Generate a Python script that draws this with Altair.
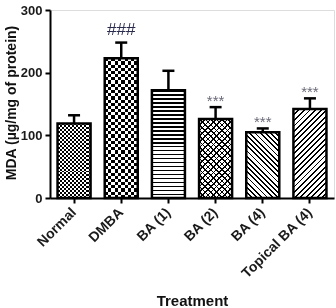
import math
import altair as alt
import pandas as pd

# ---------------- data ----------------
categories = ["Normal", "DMBA", "BA (1)", "BA (2)", "BA (4)", "Topical BA (4)"]
mda_mean = [119, 223, 172, 126, 105, 142]
mda_upper = [132, 248, 203, 145, 111, 159]
significance = ["", "###", "", "***", "***", "***"]
y_ticks = [0, 100, 200, 300]

df = pd.DataFrame({
    "Treatment": categories,
    "MDA": mda_mean,
    "Upper": mda_upper,
    "Sig": significance,
})

# ---------------- layout / style constants ----------------
PLOT_W, PLOT_H = 284, 188
Y_MAX = 300
P_IN, P_OUT = 0.30, 0.16
STEP = PLOT_W / (len(categories) - P_IN + 2 * P_OUT)
BAR_W = STEP * (1 - P_IN)
FONT = "Liberation Sans"


def px_height(v):
    return v * PLOT_H / Y_MAX


def stripe_stops(n, frac, fg, bg):
    stops = []
    for i in range(n):
        a = i / n
        b = (i + frac) / n
        c = (i + 1) / n
        stops += [
            {"offset": a, "color": fg},
            {"offset": b, "color": fg},
            {"offset": b, "color": bg},
            {"offset": c, "color": bg},
        ]
    return stops


def hstripes(h_px, period, frac, fg="black", bg="white"):
    n = max(1, round(h_px / period))
    return {"gradient": "linear", "x1": 0, "y1": 0, "x2": 0, "y2": 1,
            "stops": stripe_stops(n, frac, fg, bg)}


def vstripes(w_px, period, frac, fg="black", bg="white"):
    n = max(1, round(w_px / period))
    return {"gradient": "linear", "x1": 0, "y1": 0, "x2": 1, "y2": 0,
            "stops": stripe_stops(n, frac, fg, bg)}


def dstripes(direction, w_px, h_px, period, frac, fg="black", bg="white"):
    r = h_px / w_px
    t = (1 + r) / (1 + r * r)
    if direction == "back":  # "\\"
        x1, y1, x2, y2 = 0, 1, t, 1 - t * r
    else:  # "/"
        x1, y1, x2, y2 = 0, 0, t, t * r
    length = (w_px + h_px) / math.sqrt(2)
    n = max(1, round(length / period))
    return {"gradient": "linear", "x1": x1, "y1": y1, "x2": x2, "y2": y2,
            "stops": stripe_stops(n, frac, fg, bg)}


x_enc = alt.X(
    "Treatment:N", sort=categories,
    scale=alt.Scale(paddingInner=P_IN, paddingOuter=P_OUT),
    axis=alt.Axis(
        title="Treatment", labelAngle=-45, labelAlign="right", labelBaseline="middle",
        labelFontSize=14, labelFontWeight="bold", labelColor="#1a1a1a", labelPadding=7,
        tickSize=5, tickWidth=2, tickColor="black", domainWidth=2, domainColor="black",
        titleFontSize=15, titleFontWeight="bold", titleColor="#111",
        titleBaseline="alphabetic", titleY=107,
    ),
)
y_enc = alt.Y(
    "MDA:Q",
    scale=alt.Scale(domain=[0, Y_MAX], nice=False),
    axis=alt.Axis(
        title="MDA (µg/mg of protein)", values=y_ticks, grid=False,
        labelFontSize=13, labelFontWeight="bold", labelColor="#1a1a1a", labelPadding=3,
        tickSize=5, tickWidth=2, tickColor="black", domainWidth=2, domainColor="black",
        titleFontSize=14, titleFontWeight="bold", titleColor="#111",
        titleBaseline="alphabetic", titleX=-35, titleY=PLOT_H / 2 - 1.5,
    ),
)

base = alt.Chart(df).encode(x=x_enc, y=y_enc)


def sel(cat):
    return base.transform_filter(alt.datum.Treatment == cat)


layers = []
h = {c: px_height(v) for c, v in zip(categories, mda_mean)}

# Normal: fine checkerboard (xor of horizontal and vertical stripes)
layers.append(sel("Normal").mark_bar(fill=hstripes(h["Normal"], 4.0, 0.5), strokeWidth=0))
layers.append(sel("Normal").mark_bar(fill=vstripes(BAR_W, 4.0, 0.5), strokeWidth=0, blend="difference"))
# DMBA: coarse checkerboard
layers.append(sel("DMBA").mark_bar(fill=hstripes(h["DMBA"], 6.4, 0.5), strokeWidth=0))
layers.append(sel("DMBA").mark_bar(fill=vstripes(BAR_W, 6.4, 0.5), strokeWidth=0, blend="difference"))
# BA (1): horizontal lines
layers.append(sel("BA (1)").mark_bar(fill=hstripes(h["BA (1)"], 4.0, 0.35), strokeWidth=0))
# BA (2): diagonal cross-hatch
layers.append(sel("BA (2)").mark_bar(fill=dstripes("back", BAR_W, h["BA (2)"], 4.0, 0.3), strokeWidth=0))
layers.append(sel("BA (2)").mark_bar(fill=dstripes("fwd", BAR_W, h["BA (2)"], 4.0, 0.3), strokeWidth=0, blend="multiply"))
# BA (4): "\\" stripes
layers.append(sel("BA (4)").mark_bar(fill=dstripes("back", BAR_W, h["BA (4)"], 3.6, 0.35), strokeWidth=0))
# Topical BA (4): "/" stripes
layers.append(sel("Topical BA (4)").mark_bar(fill=dstripes("fwd", BAR_W, h["Topical BA (4)"], 3.9, 0.33), strokeWidth=0))

# error bars (upper only) with caps
layers.append(base.mark_rule(color="black", strokeWidth=2.5).encode(y2="Upper:Q"))
layers.append(base.mark_tick(color="black", size=12, thickness=2.5, opacity=1).encode(y="Upper:Q"))

# bar outlines
layers.append(base.mark_bar(fill="white", fillOpacity=0, stroke="black", strokeWidth=2.5))

# significance markers
layers.append(
    base.transform_filter(alt.datum.Sig == "###")
    .mark_text(font=FONT, fontSize=17, color="#2b2b4d", baseline="alphabetic", dy=-8)
    .encode(y="Upper:Q", text="Sig:N")
)
layers.append(
    base.transform_filter(alt.datum.Sig == "***")
    .mark_text(font=FONT, fontSize=15, color="#6a6a78", baseline="alphabetic", dy=-1)
    .encode(y="Upper:Q", text="Sig:N")
)

chart = (
    alt.layer(*layers)
    .properties(
        width=PLOT_W, height=PLOT_H,
        autosize=alt.AutoSizeParams(type="none"),
        padding={"left": 50, "top": 10, "right": 2, "bottom": 110},
        background="white",
    )
    .configure_view(stroke=None)
    .configure(font=FONT)
)

chart.save("out.html", embed_options={"renderer": "svg", "actions": False})
